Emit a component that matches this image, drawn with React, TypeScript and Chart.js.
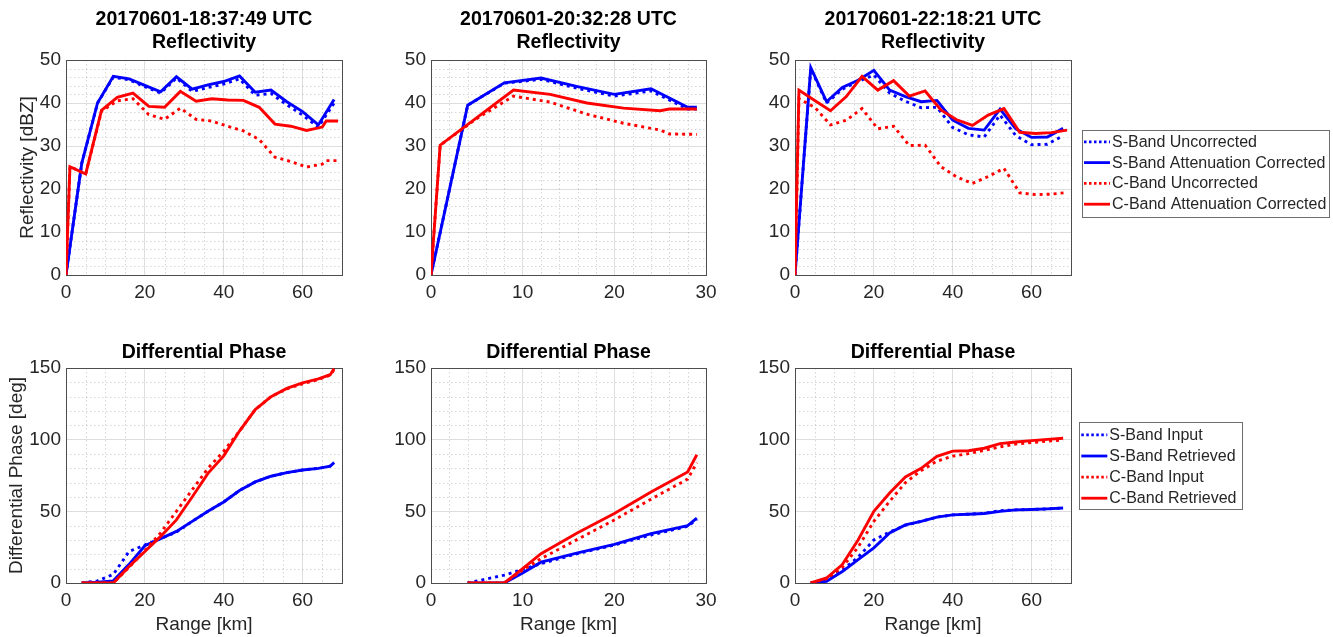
import React, { useEffect, useRef } from "react";
import { Chart, registerables } from "chart.js";

Chart.register(...registerables);

const FONT = '"Liberation Sans", Arial, Helvetica, sans-serif';
const BLUE = "#0000ff";
const RED = "#ff0000";
const TEXT = "#262626";

// ---------- Reflectivity, 18:37:49 ----------
const r1SRange = [0, 4, 8, 12, 16, 20, 24, 28, 32, 36, 40, 44, 48, 52, 56, 60, 64, 68];
const r1SUncorrected = [0, 26, 40, 46, 45.4, 43.8, 42.3, 45.8, 42.7, 43.6, 44.4, 45.6, 41.8, 42.2, 39.6, 37.2, 34.4, 40.0];
const r1SCorrected = [0, 26, 40, 46.2, 45.6, 44.1, 42.6, 46.1, 43.2, 44.2, 45.0, 46.3, 42.5, 43.0, 40.3, 38.0, 34.9, 40.8];
const r1CRange = [0, 1, 5, 9, 13, 17, 21, 25, 29, 33, 37, 41, 45, 49, 53, 57, 61, 65, 66, 69];
const r1CUncorrected = [0, 25.2, 23.5, 38.1, 40.5, 41.0, 37.3, 36.2, 38.8, 36.2, 35.8, 34.6, 33.5, 31.5, 27.4, 26.4, 25.1, 25.8, 26.6, 26.6];
const r1CCorrected = [0, 25.2, 23.5, 38.3, 41.3, 42.3, 39.2, 39.0, 42.7, 40.4, 41.0, 40.7, 40.6, 39.0, 35.1, 34.6, 33.6, 34.4, 35.8, 35.8];

// ---------- Reflectivity, 20:32:28 ----------
const r2SRange = [0, 4, 8, 12, 16, 20, 24, 28, 29];
const r2SUncorrected = [0, 39.5, 44.6, 45.5, 43.4, 41.6, 42.8, 38.6, 38.6];
const r2SCorrected = [0, 39.5, 44.7, 45.8, 43.8, 42.0, 43.3, 39.0, 39.0];
const r2CRange = [0, 1, 5, 9, 13, 17, 21, 25, 26, 29];
const r2CUncorrected = [0, 30.2, 36.4, 41.6, 40.2, 37.4, 35.3, 33.7, 32.8, 32.7];
const r2CCorrected = [0, 30.2, 36.6, 43.0, 42.0, 40.0, 38.8, 38.2, 38.6, 38.6];

// ---------- Reflectivity, 22:18:21 ----------
const r3SRange = [0, 4, 8, 12, 16, 20, 24, 28, 32, 36, 40, 44, 48, 52, 56, 60, 64, 68];
const r3SUncorrected = [0, 48.0, 40.0, 43.2, 45.0, 46.5, 42.3, 40.4, 38.9, 39.0, 34.3, 32.6, 32.1, 37.2, 32.4, 30.3, 30.4, 32.4];
const r3SCorrected = [0, 48.2, 40.3, 43.6, 45.3, 47.6, 43.0, 41.5, 40.3, 40.6, 36.0, 34.1, 33.7, 38.6, 34.0, 32.0, 32.1, 34.1];
const r3CRange = [0, 1, 5, 9, 13, 17, 21, 25, 29, 33, 37, 41, 45, 49, 53, 57, 61, 65, 69];
const r3CUncorrected = [0, 41.0, 39.0, 34.9, 36.0, 38.7, 34.0, 34.6, 30.1, 30.2, 25.2, 22.8, 21.3, 22.9, 24.8, 19.1, 18.7, 18.8, 19.2];
const r3CCorrected = [0, 43.0, 40.6, 38.2, 41.5, 46.2, 43.0, 45.2, 41.6, 42.8, 38.4, 36.1, 34.8, 37.2, 38.7, 33.2, 32.9, 33.1, 33.7];

// ---------- Differential phase, 18:37:49 ----------
const p1Range = [4, 8, 12, 16, 20, 24, 28, 32, 36, 40, 44, 48, 52, 56, 60, 64, 67, 68];
const p1SInput = [0, 1.5, 6, 22, 26.5, 31, 35.5, 43, 50, 56.5, 64.5, 70.5, 74.5, 77, 78.8, 80, 81.5, 84];
const p1SRetrieved = [0, 0.5, 1.5, 13, 26, 31, 36, 43, 50, 56.5, 64.5, 70.5, 74.5, 77, 78.8, 80, 81.5, 84];
const p1CInput = [0, 0, 0, 11, 22.5, 35, 50, 65, 80, 92, 106, 121, 130, 135.5, 139, 142, 145, 149];
const p1CRetrieved = [0, 0, 0, 11.5, 22, 32.5, 44, 60, 76.5, 88.7, 106, 121, 130, 135.8, 139.6, 142.4, 145.3, 149.5];

// ---------- Differential phase, 20:32:28 ----------
const p2Range = [4, 8, 10, 12, 16, 20, 24, 28, 29];
const p2SInput = [0, 5.5, 9.5, 13.5, 20.5, 26.5, 33.5, 39.5, 44.5];
const p2SRetrieved = [0, 0, 7, 14.5, 21, 27, 34.5, 40, 45.3];
const p2CInput = [0, 0, 9, 17, 30.5, 44, 58.5, 72.5, 84];
const p2CRetrieved = [0, 0, 10, 20.5, 35, 48.5, 63.5, 77.5, 89.5];

// ---------- Differential phase, 22:18:21 ----------
const p3Range = [4, 8, 12, 16, 20, 24, 28, 32, 36, 40, 44, 48, 52, 56, 60, 64, 68];
const p3SInput = [0, 2, 9, 18, 30, 35.5, 40.3, 43, 46, 47.5, 48, 48.6, 50.5, 51, 51.3, 51.7, 52.3];
const p3SRetrieved = [0, 1.2, 8, 16.3, 24.5, 35, 40.5, 43, 46, 47.5, 48, 48.5, 50, 51, 51.3, 51.7, 52.3];
const p3CInput = [0, 3, 11, 25, 43, 57, 70, 78.5, 85, 88.5, 90.3, 92.5, 95, 97, 98, 99, 99.8];
const p3CRetrieved = [0, 3.5, 12.8, 30, 50, 62.8, 74, 80, 88.4, 92, 92.3, 94, 97.2, 98.4, 99.3, 100.2, 101];

const reflLabels = ["S-Band Uncorrected", "S-Band Attenuation Corrected", "C-Band Uncorrected", "C-Band Attenuation Corrected"];
const phaseLabels = ["S-Band Input", "S-Band Retrieved", "C-Band Input", "C-Band Retrieved"];

type Series = { label: string; xs: number[]; ys: number[]; color: string; dotted: boolean };

function makeDatasets(series: Series[]) {
  return series.map((s, i) => ({
    label: s.label,
    data: s.xs.map((x, j) => ({ x, y: s.ys[j] })),
    borderColor: s.color,
    backgroundColor: s.color,
    borderWidth: 2.9,
    borderDash: s.dotted ? [3, 4] : [],
    pointRadius: 0,
    pointHoverRadius: 0,
    tension: 0,
    fill: false,
    order: series.length - i,
  }));
}

function fourSeries(labels: string[], sx: number[], s1: number[], s2: number[], cx: number[], c1: number[], c2: number[]): Series[] {
  return [
    { label: labels[0], xs: sx, ys: s1, color: BLUE, dotted: true },
    { label: labels[1], xs: sx, ys: s2, color: BLUE, dotted: false },
    { label: labels[2], xs: cx, ys: c1, color: RED, dotted: true },
    { label: labels[3], xs: cx, ys: c2, color: RED, dotted: false },
  ];
}

const decorPlugin = {
  id: "panelDecor",
  beforeDatasetsDraw(chart: any, _args: any, opts: any) {
    const { ctx, chartArea: a } = chart;
    const xs = chart.scales.x;
    const ys = chart.scales.y;
    ctx.save();
    ctx.strokeStyle = "rgba(0,0,0,0.16)";
    ctx.lineWidth = 1;
    ctx.setLineDash([1.5, 2.5]);
    for (let k = 1; k * opts.xMinor < xs.max - 1e-6; k++) {
      const v = k * opts.xMinor;
      if (Math.abs(v / opts.xMajor - Math.round(v / opts.xMajor)) < 1e-6) continue;
      const px = Math.round(xs.getPixelForValue(v)) + 0.5;
      ctx.beginPath();
      ctx.moveTo(px, a.top);
      ctx.lineTo(px, a.bottom);
      ctx.stroke();
    }
    for (let k = 1; k * opts.yMinor < ys.max - 1e-6; k++) {
      const v = k * opts.yMinor;
      if (Math.abs(v / opts.yMajor - Math.round(v / opts.yMajor)) < 1e-6) continue;
      const py = Math.round(ys.getPixelForValue(v)) + 0.5;
      ctx.beginPath();
      ctx.moveTo(a.left, py);
      ctx.lineTo(a.right, py);
      ctx.stroke();
    }
    ctx.setLineDash([]);
    ctx.strokeStyle = "#4d4d4d";
    ctx.lineWidth = 1;
    ctx.strokeRect(Math.round(a.left) + 0.5, Math.round(a.top) + 0.5, Math.round(a.right - a.left), Math.round(a.bottom - a.top));
    ctx.restore();
  },
  afterDraw(chart: any, _args: any, opts: any) {
    const { ctx, chartArea: a } = chart;
    const cx = (a.left + a.right) / 2;
    const cy = (a.top + a.bottom) / 2;
    ctx.save();
    ctx.textBaseline = "middle";
    ctx.textAlign = "center";
    ctx.fillStyle = "#000";
    ctx.font = `bold 19.5px ${FONT}`;
    (opts.titles || []).forEach((t: any) => ctx.fillText(t.text, cx, a.top + t.dy));
    ctx.fillStyle = TEXT;
    ctx.font = `19px ${FONT}`;
    if (opts.xLabel) ctx.fillText(opts.xLabel.text, cx, a.bottom + opts.xLabel.dy);
    if (opts.yLabel) {
      ctx.save();
      ctx.translate(a.left + opts.yLabel.dx, cy);
      ctx.rotate(-Math.PI / 2);
      ctx.fillText(opts.yLabel.text, 0, 0);
      ctx.restore();
    }
    const lg = opts.legend;
    if (lg) {
      const bx = a.right + lg.dx;
      const by = a.top + lg.dy;
      ctx.fillStyle = "#fff";
      ctx.fillRect(bx, by, lg.w, lg.h);
      ctx.strokeStyle = "#6e6e6e";
      ctx.lineWidth = 1;
      ctx.strokeRect(Math.round(bx) + 0.5, Math.round(by) + 0.5, Math.round(lg.w), Math.round(lg.h));
      ctx.textAlign = "left";
      ctx.font = `16px ${FONT}`;
      chart.data.datasets.forEach((ds: any, i: number) => {
        const ry = by + lg.rowStart + i * lg.rowGap;
        ctx.strokeStyle = ds.borderColor;
        ctx.lineWidth = 2.8;
        ctx.setLineDash(ds.borderDash && ds.borderDash.length ? [2.5, 2.5] : []);
        ctx.beginPath();
        ctx.moveTo(bx + 2, ry);
        ctx.lineTo(bx + 28, ry);
        ctx.stroke();
        ctx.setLineDash([]);
        ctx.fillStyle = TEXT;
        ctx.fillText(ds.label, bx + 30, ry + 0.5);
      });
    }
    ctx.restore();
  },
};

type PanelSpec = {
  left: number;
  top: number;
  width: number;
  height: number;
  padTop: number;
  padRight: number;
  yAxisW: number;
  xAxisH: number;
  xMax: number;
  xMajor: number;
  xMinor: number;
  yMax: number;
  yMajor: number;
  yMinor: number;
  series: Series[];
  titles: { text: string; dy: number }[];
  xLabel?: { text: string; dy: number } | null;
  yLabel?: { text: string; dx: number } | null;
  legend?: any;
};

function Panel({ spec }: { spec: PanelSpec }) {
  const ref = useRef<HTMLCanvasElement>(null);
  useEffect(() => {
    const tickFont = { family: FONT, size: 19 };
    const chart = new Chart(ref.current as HTMLCanvasElement, {
      type: "line",
      data: { datasets: makeDatasets(spec.series) as any },
      plugins: [decorPlugin as any],
      options: {
        responsive: false,
        animation: false,
        events: [],
        layout: { padding: { top: spec.padTop, right: spec.padRight, left: 0, bottom: 0 } },
        plugins: {
          legend: { display: false },
          tooltip: { enabled: false },
          panelDecor: {
            xMajor: spec.xMajor,
            xMinor: spec.xMinor,
            yMajor: spec.yMajor,
            yMinor: spec.yMinor,
            titles: spec.titles,
            xLabel: spec.xLabel || null,
            yLabel: spec.yLabel || null,
            legend: spec.legend || null,
          },
        } as any,
        scales: {
          x: {
            type: "linear",
            min: 0,
            max: spec.xMax,
            ticks: { stepSize: spec.xMajor, includeBounds: false, color: TEXT, font: tickFont, padding: 6, maxRotation: 0, autoSkip: false },
            grid: { color: "#dedede", lineWidth: 1, drawTicks: false },
            border: { display: false },
            afterFit: (s: any) => {
              s.height = spec.xAxisH;
            },
          },
          y: {
            type: "linear",
            min: 0,
            max: spec.yMax,
            ticks: { stepSize: spec.yMajor, includeBounds: false, color: TEXT, font: tickFont, padding: 5, autoSkip: false },
            grid: { color: "#dedede", lineWidth: 1, drawTicks: false },
            border: { display: false },
            afterFit: (s: any) => {
              s.width = spec.yAxisW;
            },
          },
        } as any,
      },
    });
    return () => chart.destroy();
  }, []);
  return (
    <canvas
      ref={ref}
      width={spec.width}
      height={spec.height}
      style={{ position: "absolute", left: spec.left, top: spec.top, width: spec.width, height: spec.height }}
    />
  );
}

const COLS = [
  { left: 0, width: 370, yAxisW: 66, padRight: 28 },
  { left: 380, width: 360, yAxisW: 51, padRight: 34 },
  { left: 745, width: 588, yAxisW: 50, padRight: 262 },
];
const ROWS = [
  { top: 0, height: 318, padTop: 60, xAxisH: 43 },
  { top: 318, height: 319, padTop: 50, xAxisH: 54 },
];

const legend1 = { dx: 11, dy: 70, w: 247, h: 86.5, rowStart: 11.8, rowGap: 20.8 };
const legend2 = { dx: 8.3, dy: 54.3, w: 163.4, h: 86.7, rowStart: 12.6, rowGap: 21.1 };

function spec(col: number, row: number, extra: Partial<PanelSpec>): PanelSpec {
  return { ...COLS[col], ...ROWS[row], ...(extra as any) } as PanelSpec;
}

const reflBase = { xMajor: 20, xMinor: 5, yMax: 50, yMajor: 10, yMinor: 2 };
const phaseBase = { xMajor: 20, xMinor: 5, yMax: 150, yMajor: 50, yMinor: 10 };

const PANELS: PanelSpec[] = [
  spec(0, 0, {
    ...reflBase,
    xMax: 70,
    series: fourSeries(reflLabels, r1SRange, r1SUncorrected, r1SCorrected, r1CRange, r1CUncorrected, r1CCorrected),
    titles: [
      { text: "20170601-18:37:49 UTC", dy: -40 },
      { text: "Reflectivity", dy: -17 },
    ],
    yLabel: { text: "Reflectivity [dBZ]", dx: -38 },
  }),
  spec(1, 0, {
    ...reflBase,
    xMax: 30,
    xMajor: 10,
    xMinor: 2,
    series: fourSeries(reflLabels, r2SRange, r2SUncorrected, r2SCorrected, r2CRange, r2CUncorrected, r2CCorrected),
    titles: [
      { text: "20170601-20:32:28 UTC", dy: -40 },
      { text: "Reflectivity", dy: -17 },
    ],
  }),
  spec(2, 0, {
    ...reflBase,
    xMax: 70,
    series: fourSeries(reflLabels, r3SRange, r3SUncorrected, r3SCorrected, r3CRange, r3CUncorrected, r3CCorrected),
    titles: [
      { text: "20170601-22:18:21 UTC", dy: -40 },
      { text: "Reflectivity", dy: -17 },
    ],
    legend: legend1,
  }),
  spec(0, 1, {
    ...phaseBase,
    xMax: 70,
    series: fourSeries(phaseLabels, p1Range, p1SInput, p1SRetrieved, p1Range, p1CInput, p1CRetrieved),
    titles: [{ text: "Differential Phase", dy: -15 }],
    yLabel: { text: "Differential Phase [deg]", dx: -49.5 },
    xLabel: { text: "Range [km]", dy: 42 },
  }),
  spec(1, 1, {
    ...phaseBase,
    xMax: 30,
    xMajor: 10,
    xMinor: 2,
    series: fourSeries(phaseLabels, p2Range, p2SInput, p2SRetrieved, p2Range, p2CInput, p2CRetrieved),
    titles: [{ text: "Differential Phase", dy: -15 }],
    xLabel: { text: "Range [km]", dy: 42 },
  }),
  spec(2, 1, {
    ...phaseBase,
    xMax: 70,
    series: fourSeries(phaseLabels, p3Range, p3SInput, p3SRetrieved, p3Range, p3CInput, p3CRetrieved),
    titles: [{ text: "Differential Phase", dy: -15 }],
    xLabel: { text: "Range [km]", dy: 42 },
    legend: legend2,
  }),
];

export default function App() {
  return (
    <div style={{ position: "fixed", left: 0, top: 0, width: 1333, height: 637, background: "#fff", overflow: "hidden" }}>
      {PANELS.map((p, i) => (
        <Panel key={i} spec={p} />
      ))}
    </div>
  );
}
